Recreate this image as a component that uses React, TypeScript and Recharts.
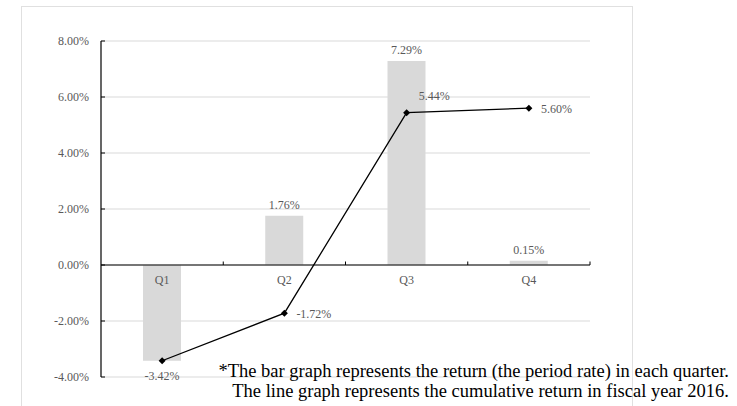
import React from 'react';
import {
  ComposedChart,
  Bar,
  Line,
  XAxis,
  YAxis,
  CartesianGrid,
  ReferenceLine,
  ReferenceDot,
  LabelList,
} from 'recharts';

// values (percent)
const quarters = ['Q1', 'Q2', 'Q3', 'Q4'];
const periodReturn = [-3.42, 1.76, 7.29, 0.15];
const cumulativeReturn = [-3.42, -1.72, 5.44, 5.6];
const yTicks = [-4, -2, 0, 2, 4, 6, 8];

const data = quarters.map((q, i) => ({
  quarter: q,
  period: periodReturn[i],
  cumulative: cumulativeReturn[i],
}));

const SERIF = "'Liberation Serif', 'Times New Roman', serif";
const LABEL_COLOR = '#595959';
const fmt = (v: number) => `${v.toFixed(2)}%`;

const YTick = (props: any) => {
  const { x, y, payload } = props;
  return (
    <g>
      <line x1={x + 12} x2={x + 16} y1={y} y2={y} stroke="#000" />
      <text x={x} y={y} dy={4} textAnchor="end" fontSize={12} fill={LABEL_COLOR} fontFamily={SERIF}>
        {fmt(payload.value)}
      </text>
    </g>
  );
};

// zero line acts as the category axis, with small upward ticks between categories
const ZeroAxis = (props: any) => {
  const { x1, x2, y1 } = props;
  const step = (x2 - x1) / quarters.length;
  return (
    <g>
      <line x1={x1} x2={x2} y1={y1} y2={y1} stroke="#000" strokeWidth={1.2} />
      {quarters.map((_, i) => (
        <line key={i} x1={x1 + step * (i + 1)} x2={x1 + step * (i + 1)} y1={y1} y2={y1 - 3.5} stroke="#000" />
      ))}
    </g>
  );
};

const BarLabel = (props: any) => {
  const { x, y, width, height, value } = props;
  const top = Math.min(y, y + height);
  const bottom = Math.max(y, y + height);
  const cx = x + width / 2;
  const ty = value < 0 ? bottom + 19 : top - 7;
  return (
    <text x={cx} y={ty} textAnchor="middle" fontSize={12} fill={LABEL_COLOR} fontFamily={SERIF}>
      {fmt(value)}
    </text>
  );
};

const LineLabel = (props: any) => {
  const { x, y, value, index } = props;
  if (index === 0) return null; // same value as the bar label
  const above = index === 2;
  return (
    <text
      x={x + 12}
      y={above ? y - 13 : y + 5}
      textAnchor="start"
      fontSize={12}
      fill={LABEL_COLOR}
      fontFamily={SERIF}
    >
      {fmt(value)}
    </text>
  );
};

const Diamond = (props: any) => {
  const { cx, cy } = props;
  if (cx == null || cy == null) return null;
  const r = 3.5;
  return <polygon points={`${cx},${cy - r} ${cx + r},${cy} ${cx},${cy + r} ${cx - r},${cy}`} fill="#000" />;
};

export default function App() {
  return (
    <div style={{ position: 'absolute', left: 0, top: 0, width: 737, height: 406, overflow: 'hidden', background: '#fff' }}>
      <div
        style={{
          position: 'absolute',
          left: 21,
          top: 6,
          width: 610,
          height: 440,
          border: '1px solid #e0e0e0',
        }}
      />
      <div style={{ position: 'absolute', left: 0, top: 0 }}>
        <ComposedChart
          width={737}
          height={406}
          data={data}
          margin={{ top: 41, right: 147, bottom: 29, left: 0 }}
        >
          <CartesianGrid vertical={false} stroke="#d9d9d9" />
          <XAxis dataKey="quarter" hide />
          <YAxis
            domain={[-4, 8]}
            ticks={yTicks}
            width={101}
            tickSize={0}
            tickMargin={12}
            tickLine={false}
            axisLine={{ stroke: '#000', strokeWidth: 1.2 }}
            tick={<YTick />}
          />
          <Bar dataKey="period" fill="#d9d9d9" barSize={38} isAnimationActive={false}>
            <LabelList dataKey="period" content={<BarLabel />} />
          </Bar>
          <ReferenceLine y={0} shape={<ZeroAxis />} />
          {quarters.map((q) => (
            <ReferenceDot
              key={q}
              x={q}
              y={0}
              r={0}
              fill="none"
              stroke="none"
              label={{ value: q, position: 'bottom', offset: 10, fill: LABEL_COLOR, fontSize: 12, fontFamily: SERIF }}
            />
          ))}
          <Line
            dataKey="cumulative"
            stroke="#000"
            strokeWidth={1.3}
            dot={<Diamond />}
            activeDot={false}
            isAnimationActive={false}
          >
            <LabelList dataKey="cumulative" content={<LineLabel />} />
          </Line>
        </ComposedChart>
      </div>
      <div
        style={{
          position: 'absolute',
          right: 8,
          top: 361,
          textAlign: 'right',
          fontFamily: SERIF,
          fontSize: 18.5,
          lineHeight: '20px',
          color: '#000',
          whiteSpace: 'nowrap',
        }}
      >
        <div>*The bar graph represents the return (the period rate) in each quarter.</div>
        <div>The line graph represents the cumulative return in fiscal year 2016.</div>
      </div>
    </div>
  );
}
